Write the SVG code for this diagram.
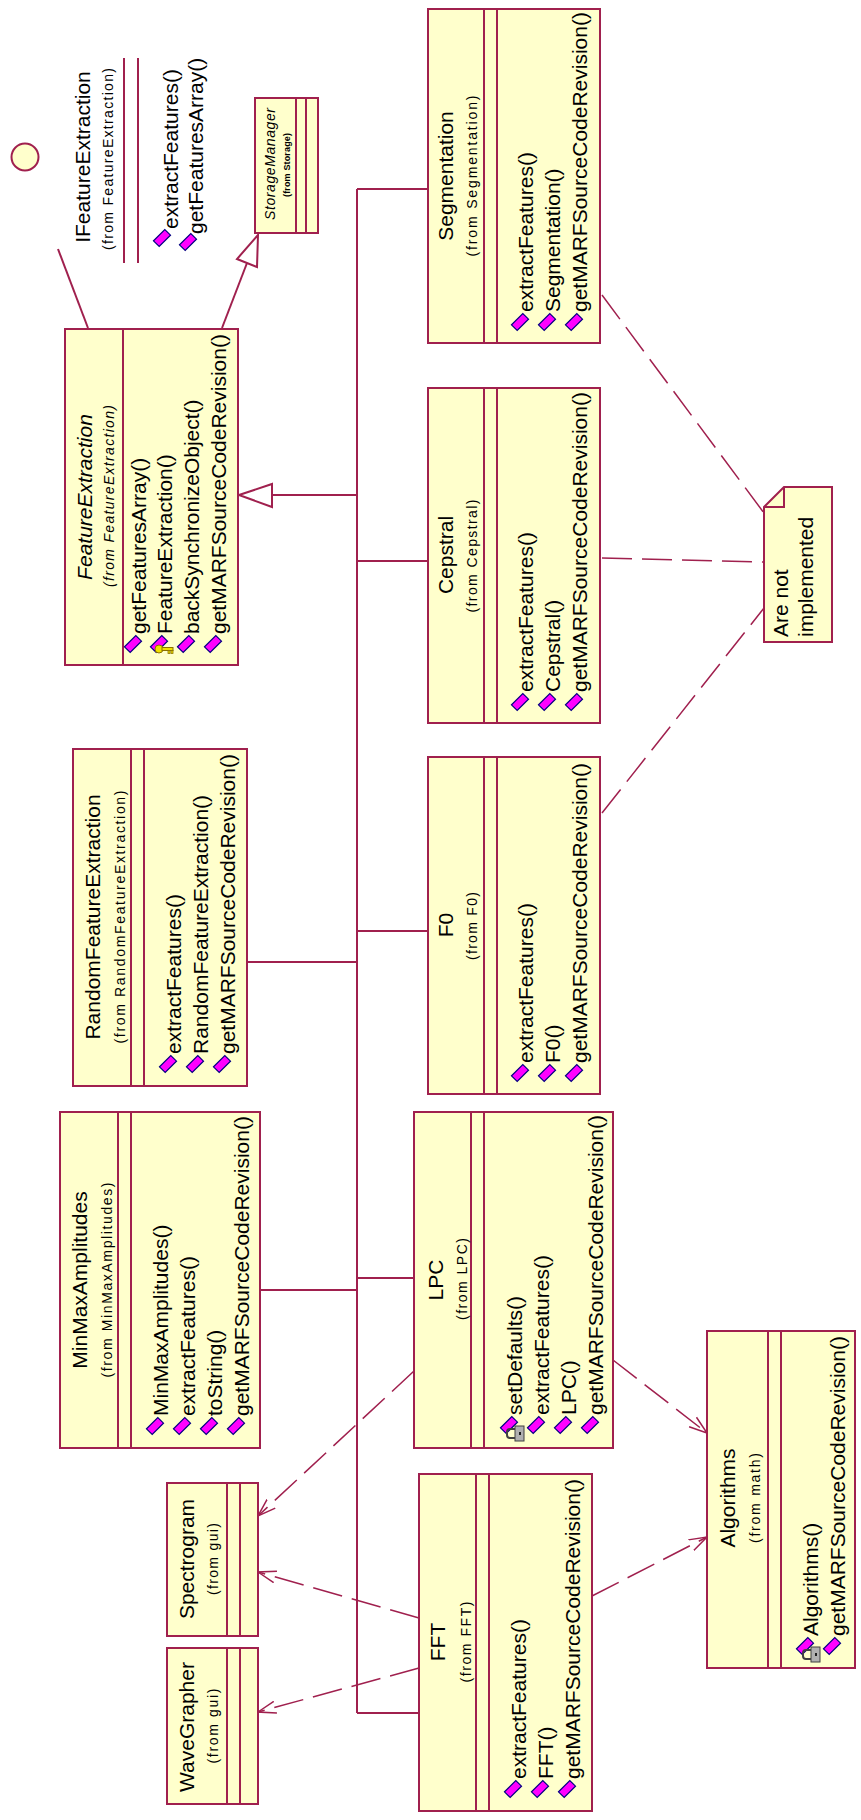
<svg xmlns="http://www.w3.org/2000/svg" width="861" height="1820" viewBox="0 0 861 1820">
<defs>
<style>
.box{fill:#ffffcc;stroke:#a0204e;stroke-width:2}
.dv{stroke:#a0204e;stroke-width:2;fill:none}
.ln{stroke:#a0204e;stroke-width:2;fill:none}
.dep{stroke:#a0204e;stroke-width:1.5;fill:none;stroke-dasharray:30 10}
.tri{fill:#ffffff;stroke:#a0204e;stroke-width:2}
text{font-family:"Liberation Sans",Arial,sans-serif;font-size:21px;fill:#000000}
.f{font-size:14px}
.i{font-style:italic}
.m{text-anchor:middle}
</style>
<g id="op"><polygon points="-8.5,2.8 -2.8,8.5 8.5,-2.8 2.8,-8.5" fill="#ff00ff" stroke="#000080" stroke-width="1.2"/></g>
<g id="lock"><path d="M6,4 h-5 a3,3 0 0 0 -3,3 v3 a3,3 0 0 0 3,3 h5" fill="none" stroke="#404040" stroke-width="2"/><rect x="6" y="1" width="9" height="15" fill="#b0b0b0" stroke="#404040" stroke-width="1"/><rect x="10" y="7" width="2" height="3" fill="#202020"/></g>
<g id="key"><circle cx="2" cy="9" r="4" fill="#f0e000" stroke="#8a7000" stroke-width="1"/><rect x="5" y="7.5" width="11" height="3" fill="#f0e000" stroke="#8a7000" stroke-width="1"/><rect x="11" y="10.5" width="2" height="3" fill="#f0e000" stroke="#8a7000" stroke-width="0.8"/><rect x="14" y="10.5" width="2" height="3" fill="#f0e000" stroke="#8a7000" stroke-width="0.8"/></g>
<marker id="open" markerUnits="userSpaceOnUse" markerWidth="20" markerHeight="20" refX="18" refY="10" orient="auto"><path d="M0,4 L18,10 L0,16" fill="none" stroke="#a0204e" stroke-width="1.5" stroke-dasharray="none"/></marker>
</defs>
<rect x="0" y="0" width="861" height="1820" fill="#ffffff"/>

<g id="connectors">
<line class="ln" x1="357" y1="189" x2="357" y2="1713"/>
<line class="ln" x1="357" y1="189" x2="428" y2="189"/>
<line class="ln" x1="272" y1="495" x2="357" y2="495"/>
<polygon class="tri" points="239,495 272,484 272,507"/>
<line class="ln" x1="357" y1="561" x2="428" y2="561"/>
<line class="ln" x1="357" y1="931" x2="428" y2="931"/>
<line class="ln" x1="247" y1="962" x2="357" y2="962"/>
<line class="ln" x1="357" y1="1278" x2="414" y2="1278"/>
<line class="ln" x1="260" y1="1290" x2="357" y2="1290"/>
<line class="ln" x1="357" y1="1713" x2="419" y2="1713"/>
<line class="ln" x1="222" y1="328" x2="247" y2="263"/>
<polygon class="tri" points="258,235 237,259 257,267"/>
<line class="ln" x1="58" y1="249" x2="88" y2="328"/>
<path class="dep" d="M414,1371 L258,1516" marker-end="url(#open)"/>
<path class="dep" d="M419,1618 L258,1572" marker-end="url(#open)"/>
<path class="dep" d="M419,1668 L258,1712" marker-end="url(#open)"/>
<path class="dep" d="M613,1360 L707,1433" marker-end="url(#open)"/>
<path class="dep" d="M592,1596 L707,1537" marker-end="url(#open)"/>
<path class="dep" d="M602,295 L764,513"/>
<path class="dep" d="M602,558 L764,562"/>
<path class="dep" d="M602,813 L764,608"/>
</g>

<g id="IFeatureExtraction">
<circle cx="25" cy="157" r="13.5" fill="#ffffcc" stroke="#a0204e" stroke-width="2"/>
<line class="dv" x1="124" y1="58" x2="124" y2="263"/>
<line class="dv" x1="138" y1="58" x2="138" y2="263"/>
<text class="m" transform="translate(90,157) rotate(-90)">IFeatureExtraction</text>
<text class="m f" transform="translate(113,159) rotate(-90)" textLength="182">(from FeatureExtraction)</text>
<use href="#op" x="162" y="238"/>
<text transform="translate(178,229) rotate(-90)">extractFeatures()</text>
<use href="#op" x="188" y="242"/>
<text transform="translate(203,234) rotate(-90)">getFeaturesArray()</text>
</g>

<g id="StorageManager">
<rect class="box" x="255" y="98" width="63" height="135"/>
<line class="dv" x1="296" y1="98" x2="296" y2="233"/>
<line class="dv" x1="306" y1="98" x2="306" y2="233"/>
<text class="m i" style="font-size:14px" transform="translate(275,164) rotate(-90)" textLength="112">StorageManager</text>
<text class="m" style="font-size:9px;font-weight:bold" transform="translate(290,165) rotate(-90)" textLength="64">(from Storage)</text>
</g>

<g id="FeatureExtraction">
<rect class="box" x="65" y="329" width="173" height="336"/>
<line class="dv" x1="123" y1="329" x2="123" y2="665"/>
<text class="m i" transform="translate(92,497) rotate(-90)">FeatureExtraction</text>
<text class="m i f" transform="translate(114,496) rotate(-90)" textLength="182">(from FeatureExtraction)</text>
<use href="#op" x="133" y="644"/>
<text transform="translate(146,634) rotate(-90)">getFeaturesArray()</text>
<use href="#op" x="159" y="644"/>
<use href="#key" x="157" y="640"/>
<text transform="translate(172,634) rotate(-90)">FeatureExtraction()</text>
<use href="#op" x="186" y="644"/>
<text transform="translate(199,634) rotate(-90)">backSynchronizeObject()</text>
<use href="#op" x="213" y="644"/>
<text transform="translate(226,634) rotate(-90)">getMARFSourceCodeRevision()</text>
</g>

<g id="Segmentation">
<rect class="box" x="428" y="9" width="172" height="334"/>
<line class="dv" x1="484" y1="9" x2="484" y2="343"/>
<line class="dv" x1="497" y1="9" x2="497" y2="343"/>
<text class="m" transform="translate(453,176) rotate(-90)">Segmentation</text>
<text class="m f" transform="translate(477,176) rotate(-90)" textLength="161">(from Segmentation)</text>
<use href="#op" x="520" y="322"/>
<text transform="translate(533,312) rotate(-90)">extractFeatures()</text>
<use href="#op" x="547" y="322"/>
<text transform="translate(560,312) rotate(-90)">Segmentation()</text>
<use href="#op" x="574" y="322"/>
<text transform="translate(587,312) rotate(-90)">getMARFSourceCodeRevision()</text>
</g>

<g id="Cepstral">
<rect class="box" x="428" y="388" width="172" height="335"/>
<line class="dv" x1="484" y1="388" x2="484" y2="723"/>
<line class="dv" x1="497" y1="388" x2="497" y2="723"/>
<text class="m" transform="translate(453,555) rotate(-90)">Cepstral</text>
<text class="m f" transform="translate(477,556) rotate(-90)" textLength="113">(from Cepstral)</text>
<use href="#op" x="520" y="702"/>
<text transform="translate(533,692) rotate(-90)">extractFeatures()</text>
<use href="#op" x="547" y="702"/>
<text transform="translate(560,692) rotate(-90)">Cepstral()</text>
<use href="#op" x="574" y="702"/>
<text transform="translate(587,692) rotate(-90)">getMARFSourceCodeRevision()</text>
</g>

<g id="F0">
<rect class="box" x="428" y="757" width="172" height="337"/>
<line class="dv" x1="484" y1="757" x2="484" y2="1094"/>
<line class="dv" x1="497" y1="757" x2="497" y2="1094"/>
<text class="m" transform="translate(453,925) rotate(-90)">F0</text>
<text class="m f" transform="translate(477,926) rotate(-90)" textLength="68">(from F0)</text>
<use href="#op" x="520" y="1073"/>
<text transform="translate(533,1063) rotate(-90)">extractFeatures()</text>
<use href="#op" x="547" y="1073"/>
<text transform="translate(560,1063) rotate(-90)">F0()</text>
<use href="#op" x="574" y="1073"/>
<text transform="translate(587,1063) rotate(-90)">getMARFSourceCodeRevision()</text>
</g>

<g id="Note">
<path d="M764,507 L784,487 L832,487 L832,642 L764,642 Z" fill="#ffffcc" stroke="#a0204e" stroke-width="2"/>
<path d="M784,487 L784,507 L764,507" fill="none" stroke="#a0204e" stroke-width="2"/>
<text transform="translate(788,637) rotate(-90)">Are not</text>
<text transform="translate(813,637) rotate(-90)">implemented</text>
</g>

<g id="RandomFeatureExtraction">
<rect class="box" x="73" y="749" width="174" height="337"/>
<line class="dv" x1="131" y1="749" x2="131" y2="1086"/>
<line class="dv" x1="144" y1="749" x2="144" y2="1086"/>
<text class="m" transform="translate(100,917) rotate(-90)">RandomFeatureExtraction</text>
<text class="m f" transform="translate(125,917) rotate(-90)" textLength="253">(from RandomFeatureExtraction)</text>
<use href="#op" x="168" y="1064"/>
<text transform="translate(181,1054) rotate(-90)">extractFeatures()</text>
<use href="#op" x="195" y="1064"/>
<text transform="translate(208,1054) rotate(-90)">RandomFeatureExtraction()</text>
<use href="#op" x="222" y="1064"/>
<text transform="translate(235,1054) rotate(-90)">getMARFSourceCodeRevision()</text>
</g>

<g id="MinMaxAmplitudes">
<rect class="box" x="60" y="1112" width="200" height="336"/>
<line class="dv" x1="118" y1="1112" x2="118" y2="1448"/>
<line class="dv" x1="131" y1="1112" x2="131" y2="1448"/>
<text class="m" transform="translate(87,1280) rotate(-90)">MinMaxAmplitudes</text>
<text class="m f" transform="translate(112,1280) rotate(-90)" textLength="195">(from MinMaxAmplitudes)</text>
<use href="#op" x="155" y="1426"/>
<text transform="translate(168,1416) rotate(-90)">MinMaxAmplitudes()</text>
<use href="#op" x="182" y="1426"/>
<text transform="translate(195,1416) rotate(-90)">extractFeatures()</text>
<use href="#op" x="209" y="1426"/>
<text transform="translate(222,1416) rotate(-90)">toString()</text>
<use href="#op" x="236" y="1426"/>
<text transform="translate(249,1416) rotate(-90)">getMARFSourceCodeRevision()</text>
</g>

<g id="LPC">
<rect class="box" x="414" y="1112" width="199" height="336"/>
<line class="dv" x1="471" y1="1112" x2="471" y2="1448"/>
<line class="dv" x1="484" y1="1112" x2="484" y2="1448"/>
<text class="m" transform="translate(443,1280) rotate(-90)">LPC</text>
<text class="m f" transform="translate(467,1279) rotate(-90)" textLength="82">(from LPC)</text>
<use href="#op" x="509" y="1425"/>
<use href="#lock" x="509" y="1425"/>
<text transform="translate(522,1415) rotate(-90)">setDefaults()</text>
<use href="#op" x="536" y="1425"/>
<text transform="translate(549,1415) rotate(-90)">extractFeatures()</text>
<use href="#op" x="563" y="1425"/>
<text transform="translate(576,1415) rotate(-90)">LPC()</text>
<use href="#op" x="590" y="1425"/>
<text transform="translate(603,1415) rotate(-90)">getMARFSourceCodeRevision()</text>
</g>

<g id="FFT">
<rect class="box" x="419" y="1474" width="173" height="337"/>
<line class="dv" x1="476" y1="1474" x2="476" y2="1811"/>
<line class="dv" x1="489" y1="1474" x2="489" y2="1811"/>
<text class="m" transform="translate(445,1642) rotate(-90)">FFT</text>
<text class="m f" transform="translate(471,1642) rotate(-90)" textLength="81">(from FFT)</text>
<use href="#op" x="513" y="1789"/>
<text transform="translate(526,1779) rotate(-90)">extractFeatures()</text>
<use href="#op" x="540" y="1789"/>
<text transform="translate(553,1779) rotate(-90)">FFT()</text>
<use href="#op" x="567" y="1789"/>
<text transform="translate(580,1779) rotate(-90)">getMARFSourceCodeRevision()</text>
</g>

<g id="Algorithms">
<rect class="box" x="707" y="1331" width="148" height="337"/>
<line class="dv" x1="768" y1="1331" x2="768" y2="1668"/>
<line class="dv" x1="781" y1="1331" x2="781" y2="1668"/>
<text class="m" transform="translate(735,1498) rotate(-90)">Algorithms</text>
<text class="m f" transform="translate(760,1498) rotate(-90)" textLength="90">(from math)</text>
<use href="#op" x="805" y="1646"/>
<use href="#lock" x="805" y="1646"/>
<text transform="translate(818,1636) rotate(-90)">Algorithms()</text>
<use href="#op" x="832" y="1646"/>
<text transform="translate(845,1636) rotate(-90)">getMARFSourceCodeRevision()</text>
</g>

<g id="Spectrogram">
<rect class="box" x="167" y="1483" width="91" height="153"/>
<line class="dv" x1="227" y1="1483" x2="227" y2="1636"/>
<line class="dv" x1="240" y1="1483" x2="240" y2="1636"/>
<text class="m" transform="translate(194,1559) rotate(-90)">Spectrogram</text>
<text class="m f" transform="translate(218,1559) rotate(-90)" textLength="72">(from gui)</text>
</g>

<g id="WaveGrapher">
<rect class="box" x="167" y="1648" width="91" height="156"/>
<line class="dv" x1="227" y1="1648" x2="227" y2="1804"/>
<line class="dv" x1="240" y1="1648" x2="240" y2="1804"/>
<text class="m" transform="translate(194,1727) rotate(-90)">WaveGrapher</text>
<text class="m f" transform="translate(218,1726) rotate(-90)" textLength="75">(from gui)</text>
</g>
</svg>
